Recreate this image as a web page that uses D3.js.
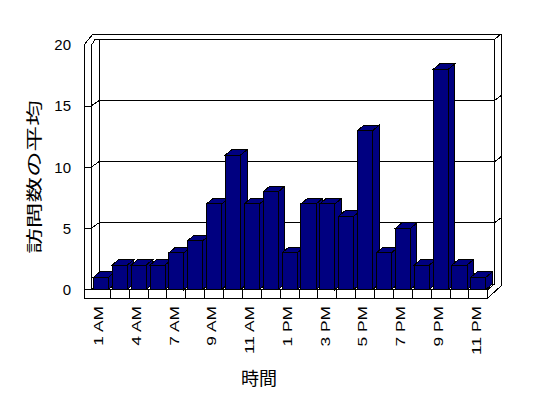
<!DOCTYPE html>
<html>
<head>
<meta charset="utf-8">
<script src="https://cdn.jsdelivr.net/npm/d3@7"></script>
<style>
	body { margin: 0; background: #fff; }
	svg { display: block; }
	text { font-family: "Liberation Sans", Arial, sans-serif; fill: #000; }
</style>
</head>
<body>
<svg id="chart" width="548" height="398"></svg>
<script>
const hours = ["1 AM", "2 AM", "4 AM", "5 AM", "7 AM", "8 AM", "9 AM", "10 AM", "11 AM", "12 PM", "1 PM",
	"2 PM", "3 PM", "4 PM", "5 PM", "6 PM", "7 PM", "8 PM", "9 PM", "10 PM", "11 PM"]
const visits = [1, 2, 2, 2, 3, 4, 7, 11, 7, 8, 3, 7, 7, 6, 13, 3, 5, 2, 18, 2, 1]
const shownHours = ["1 AM", "4 AM", "7 AM", "9 AM", "11 AM", "1 PM", "3 PM", "5 PM", "7 PM", "9 PM", "11 PM"]
const yTicks = [0, 5, 10, 15, 20]
const gridValues = [5, 10, 15]
const xTitle = "時間"
const yTitle = "訪問数の平均"

const svg = d3.select("#chart")
	.attr("shape-rendering", "crispEdges")

const x = d3.scaleBand()
	.domain(hours)
	.range([91.5, 487.8])
	.paddingInner(0.2)
	.paddingOuter(0.1)

const y = d3.scaleLinear()
	.domain([0, 20])
	.range([289.5, 45])

const step = x.step()
const bw = x.bandwidth()

// back wall position
const backL = 99, backR = 494.5, backDy = -5.5
const outerL = 84, outerTop = 34, outerR = 501, floorBottom = 298

const frame = svg.append("g")
	.attr("fill", "white")
	.attr("stroke", "black")

function seg(x1, y1, x2, y2) {
	frame.append("line")
		.attr("x1", x1).attr("y1", y1)
		.attr("x2", x2).attr("y2", y2)
}

// outer silhouette of walls + floor
frame.append("polygon")
	.attr("points", [
		[outerL, floorBottom], [outerL, y(20)], [93, outerTop], [outerR, outerTop],
		[outerR, y(0) - 3.5], [x.range()[1], floorBottom]
	].join(" "))

// back wall
frame.append("rect")
	.attr("x", backL)
	.attr("y", y(20) + backDy)
	.attr("width", backR - backL)
	.attr("height", y(0) - y(20))

// left wall inner edges
seg(x.range()[0] - 0.5, y(20) + 1, x.range()[0] - 0.5, y(0))
seg(x.range()[0] - 0.5, y(20) + 1, 95, y(20) + backDy)
seg(95, y(20) + backDy, backL, y(20) + backDy)
seg(backR, y(20) + backDy, outerR, outerTop)
seg(x.range()[0] - 0.5, y(0), backL, y(0) + backDy)

// floor
seg(outerL, y(0), x.range()[1], y(0))
seg(x.range()[1], y(0), x.range()[1], floorBottom)
seg(x.range()[1], y(0), backR, y(0) + backDy)

// gridlines
gridValues.forEach(v => {
	seg(outerL, y(v), x.range()[0] - 0.5, y(v))
	seg(x.range()[0] - 0.5, y(v), backL, y(v) + backDy)
	seg(backL, y(v) + backDy, backR, y(v) + backDy)
	seg(backR, y(v) + backDy, outerR, y(v) + backDy - 5)
})

// category separators on the floor front
hours.slice(1).forEach(h => {
	const cx = x(h) - step * 0.1
	seg(cx, y(0), cx, floorBottom)
})

// bars
const bdx = 6.5, bdy = -5.5
const bars = svg.append("g")
	.attr("fill", "#000080")
	.attr("stroke", "black")

hours.forEach((h, i) => {
	const x0 = x(h), x1 = x(h) + bw
	const yt = y(visits[i]), yb = y(0)
	const bg = bars.append("g")
	bg.append("polygon")
		.attr("points", [[x0, yt], [x0 + bdx, yt + bdy], [x1 + bdx, yt + bdy], [x1, yt]].join(" "))
	bg.append("polygon")
		.attr("points", [[x1, yt], [x1 + bdx, yt + bdy], [x1 + bdx, yb + bdy], [x1, yb]].join(" "))
	bg.append("rect")
		.attr("x", x0)
		.attr("y", yt)
		.attr("width", bw)
		.attr("height", yb - yt)
})

// y axis labels
const yAxis = svg.append("g")
	.attr("transform", "translate(" + outerL + ",0)")
	.attr("shape-rendering", "auto")
	.call(d3.axisLeft(y).tickValues(yTicks).tickSize(0).tickPadding(13))
yAxis.select(".domain").remove()
yAxis.selectAll("text")
	.attr("font-size", 15)
	.attr("font-family", "Liberation Sans, Arial, sans-serif")

// x axis labels
const xAxis = svg.append("g")
	.attr("transform", "translate(0,306)")
	.attr("shape-rendering", "auto")
	.call(d3.axisBottom(x).tickValues(shownHours).tickSize(0))
xAxis.select(".domain").remove()
xAxis.selectAll("text")
	.attr("y", 0)
	.attr("dy", "0.35em")
	.attr("text-anchor", "end")
	.attr("transform", "translate(-2,0) rotate(-90) scale(1.45,1)")
	.attr("font-size", 12)
	.attr("font-family", "Liberation Sans, Arial, sans-serif")

// titles
svg.append("text")
	.attr("x", 259)
	.attr("y", 377)
	.attr("text-anchor", "middle")
	.attr("dominant-baseline", "central")
	.attr("font-size", 18)
	.style("font-family", "'Noto Sans CJK JP', sans-serif")
	.text(xTitle)

svg.append("text")
	.attr("transform", "translate(33,177) rotate(-90) scale(1.6,1)")
	.attr("text-anchor", "middle")
	.attr("dominant-baseline", "central")
	.attr("font-size", 16)
	.style("font-family", "'Noto Sans CJK JP', sans-serif")
	.text(yTitle)
</script>
</body>
</html>
